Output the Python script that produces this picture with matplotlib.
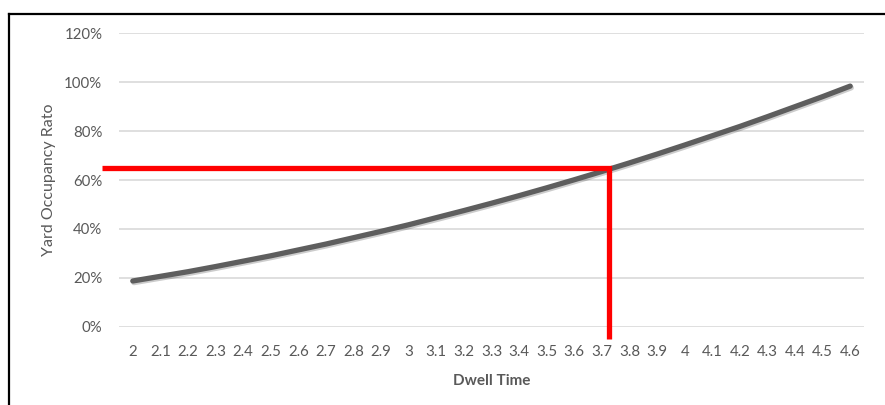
import numpy as np
import matplotlib
matplotlib.use("Agg")
import matplotlib.pyplot as plt
import matplotlib.patheffects as pe
from matplotlib.lines import Line2D
from matplotlib.ticker import PercentFormatter

# data
dwell = [2.0, 2.1, 2.2, 2.3, 2.4, 2.5, 2.6, 2.7, 2.8, 2.9, 3.0, 3.1, 3.2, 3.3,
         3.4, 3.5, 3.6, 3.7, 3.8, 3.9, 4.0, 4.1, 4.2, 4.3, 4.4, 4.5, 4.6]
occupancy = [0.187, 0.206, 0.225, 0.246, 0.268, 0.290, 0.314, 0.338, 0.364,
             0.390, 0.417, 0.446, 0.475, 0.505, 0.536, 0.568, 0.601, 0.635,
             0.670, 0.706, 0.743, 0.781, 0.819, 0.859, 0.900, 0.941, 0.984]
target_dwell = 3.725
target_ratio = 0.65
y_ticks = [0, 0.2, 0.4, 0.6, 0.8, 1.0, 1.2]

plt.rcParams['font.family'] = ['Lato', 'DejaVu Sans']
gray = '#595959'

fig = plt.figure(figsize=(8.85, 4.05), dpi=100)
ax = fig.add_axes([119/885, 1 - 326.7/405, (864 - 119)/885, (326.7 - 33.3)/405])

x = np.arange(len(dwell))
ax.plot(x, occupancy, color='#5e5e5e', lw=3.8, solid_capstyle='round', zorder=3,
        path_effects=[pe.SimpleLineShadow(offset=(0.8, -1.2), alpha=0.2), pe.Normal()])

# red guide lines
tx = np.interp(target_dwell, dwell, x)
ax.plot([-1.13, tx, tx], [target_ratio, target_ratio, -0.05], color='#ff0000',
        lw=3.8, solid_joinstyle='miter', solid_capstyle='butt', clip_on=False, zorder=4)

ax.set_xlim(-0.5, len(dwell) - 0.5)
ax.set_ylim(0, 1.2)
ax.set_yticks(y_ticks)
ax.yaxis.set_major_formatter(PercentFormatter(1.0, decimals=0))
ax.set_xticks(x)
ax.set_xticklabels([f"{v:g}" for v in dwell])
ax.grid(axis='y', color='#d9d9d9', lw=1.2)
ax.set_axisbelow(True)
for s in ax.spines.values():
    s.set_visible(False)
ax.tick_params(axis='both', length=0, colors=gray, labelsize=10.8)
ax.tick_params(axis='x', pad=13)
ax.tick_params(axis='y', pad=12)

ax.set_xlabel('Dwell Time', color=gray, fontsize=11, fontweight='bold', labelpad=11)
ax.set_ylabel('Yard Occupancy Rato', color=gray, fontsize=11.5, labelpad=6)

# frame around chart (only top and left edges visible)
fig.add_artist(Line2D([9/885, 1], [1 - 14/405, 1 - 14/405], color='black', lw=1.6))
fig.add_artist(Line2D([9/885, 9/885], [0, 1 - 14/405], color='black', lw=1.6))

fig.savefig('out.png', dpi=100)
